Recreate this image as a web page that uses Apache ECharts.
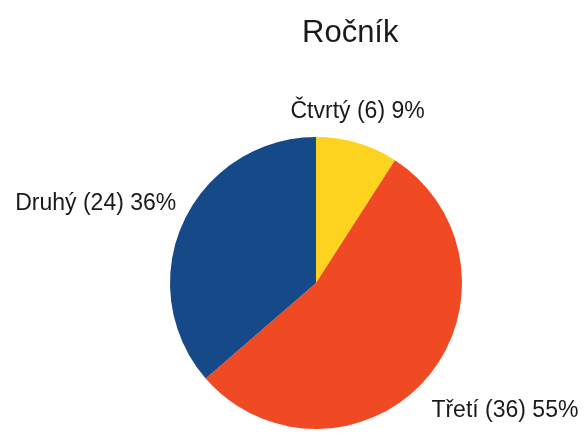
<!DOCTYPE html>
<html>
<head>
<meta charset="utf-8">
<script src="https://cdn.jsdelivr.net/npm/echarts@6/dist/echarts.min.js"></script>
<style>
html,body{margin:0;padding:0;background:#fff;}
#chart{width:585px;height:435px;}
</style>
</head>
<body>
<div id="chart"></div>
<script>
const titleText = 'Ročník';
const categories = ['Čtvrtý', 'Třetí', 'Druhý'];
const values = [6, 36, 24];
const colors = ['#FDD31F', '#F04A24', '#154987'];

const chart = echarts.init(document.getElementById('chart'), null, {renderer: 'canvas'});
chart.setOption({
  animation: false,
  backgroundColor: '#ffffff',
  title: {
    text: titleText,
    left: 297,
    top: 13,
    textStyle: {fontFamily: 'Liberation Sans', fontSize: 31, fontWeight: 'normal', color: '#1a1a1a'}
  },
  series: [{
    type: 'pie',
    center: [316, 283],
    radius: 146,
    startAngle: 90,
    clockwise: true,
    percentPrecision: 0,
    avoidLabelOverlap: false,
    data: categories.map((c, i) => ({name: c, value: values[i], itemStyle: {color: colors[i]}})),
    label: {
      show: true,
      position: 'outside',
      formatter: '{b} ({c}) {d}%',
      fontFamily: 'Liberation Sans',
      fontSize: 23,
      color: '#1a1a1a'
    },
    labelLine: {show: false, length: 12, length2: 0},
    labelLayout: function (p) {
      const shifts = [[-75, -20], [-9, 24], [9, -14]];
      const s = shifts[p.dataIndex];
      return {dx: s[0], dy: s[1]};
    },
    emphasis: {disabled: true}
  }]
});
</script>
</body>
</html>
